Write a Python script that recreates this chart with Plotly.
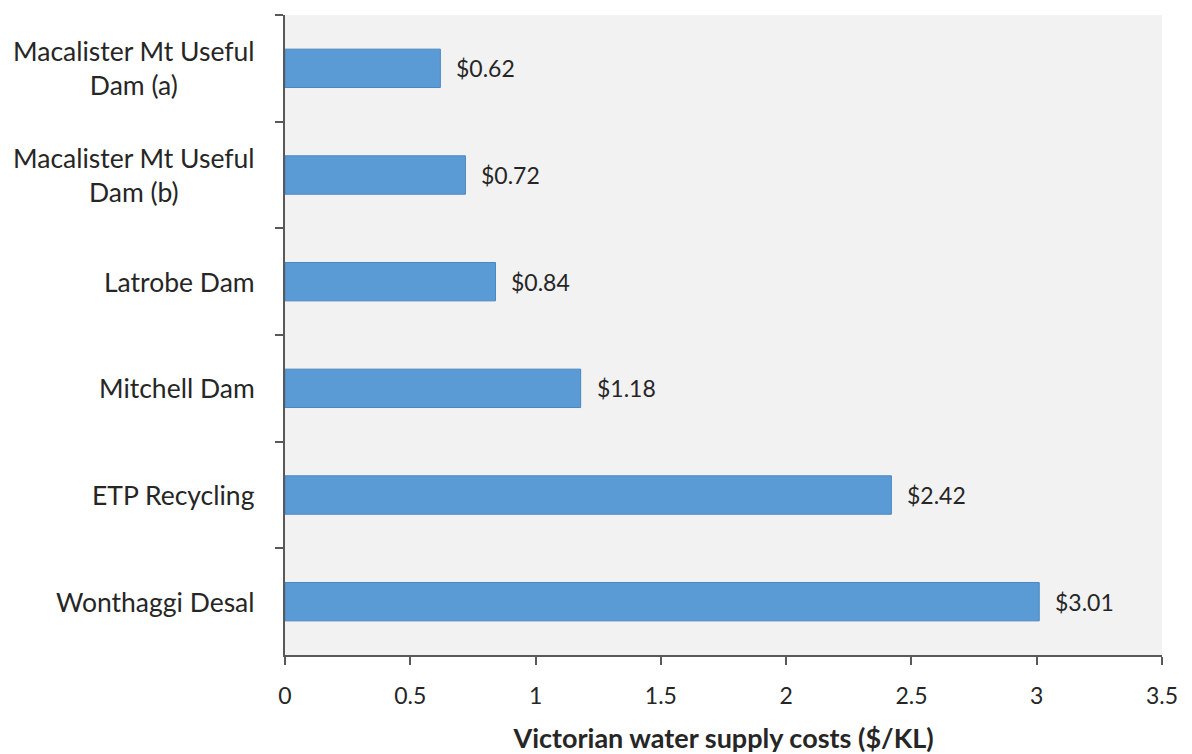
import plotly.graph_objects as go

categories = ["Macalister Mt Useful<br>Dam (a)", "Macalister Mt Useful<br>Dam (b)", "Latrobe Dam",
              "Mitchell Dam", "ETP Recycling", "Wonthaggi Desal"]
values = [0.62, 0.72, 0.84, 1.18, 2.42, 3.01]
x_ticks = [0, 0.5, 1, 1.5, 2, 2.5, 3, 3.5]
x_title = "Victorian water supply costs ($/KL)"

FONT = "Lato, 'Open Sans', sans-serif"
AX = "#595959"
TXT = "#262626"

fig = go.Figure(go.Bar(
    y=categories, x=values, orientation="h", width=0.36,
    marker=dict(color="#5b9bd5", line=dict(color="#4a86c0", width=1)),
    hoverinfo="skip",
))

for c, v in zip(categories, values):
    fig.add_annotation(x=v, y=c, text=f"${v:.2f}", showarrow=False,
                       xanchor="left", xshift=14, yanchor="middle",
                       font=dict(family=FONT, size=23, color=TXT))
    # category labels, centered multi-line like the original
    fig.add_annotation(x=0, xref="paper", y=c, text=c, showarrow=False,
                       xanchor="right", xshift=-28, yanchor="middle", align="center",
                       font=dict(family=FONT, size=26.5, color=TXT))

fig.update_layout(
    width=1192, height=754,
    margin=dict(l=285, r=30, t=15, b=99, autoexpand=False),
    paper_bgcolor="white", plot_bgcolor="#f2f2f2",
    showlegend=False,
    font=dict(family=FONT, size=22, color=TXT),
    xaxis=dict(range=[0, 3.5], tickvals=x_ticks, ticktext=[str(t) for t in x_ticks],
               automargin=False,
               showgrid=False, zeroline=False, showline=True, linecolor=AX, linewidth=2,
               ticks="outside", ticklen=8, tickwidth=2, tickcolor=AX,
               tickfont=dict(size=23, color=TXT), ticklabelstandoff=11,
               title=dict(text=f"<b>{x_title}</b>", font=dict(size=27, color=TXT), standoff=25)),
    yaxis=dict(autorange="reversed", showgrid=False, showline=True, linecolor=AX, linewidth=2,
               automargin=False,
               ticks="outside", ticklen=8, tickwidth=2, tickcolor=AX, tickson="boundaries",
               showticklabels=False),
)

fig.write_html("out.html")
